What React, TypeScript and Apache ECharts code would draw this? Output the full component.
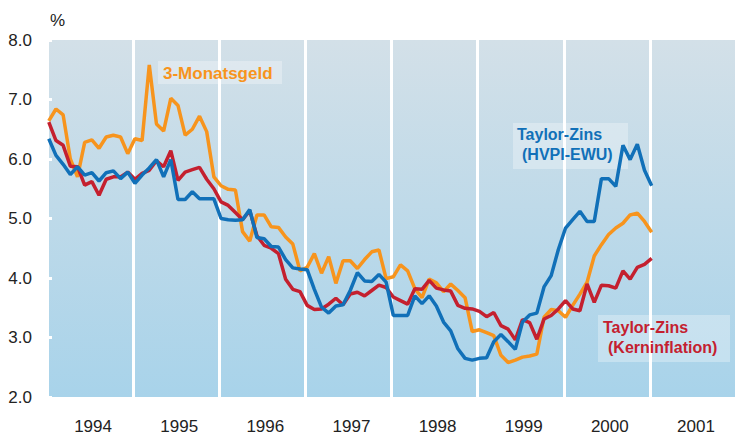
import React, { useEffect, useRef } from "react";
import * as echarts from "echarts";

const years = ["1994", "1995", "1996", "1997", "1998", "1999", "2000", "2001"];
const startYear = 1994;

const geldmarkt = [
  6.64, 6.84, 6.74, 6.0, 5.7, 6.28, 6.32, 6.18, 6.37, 6.4, 6.37, 6.09,
  6.34, 6.31, 7.58, 6.59, 6.47, 7.02, 6.9, 6.4, 6.5, 6.72, 6.46, 5.7,
  5.55, 5.49, 5.48, 4.78, 4.62, 5.06, 5.06, 4.86, 4.85, 4.69, 4.57, 4.12,
  4.18, 4.41, 4.08, 4.36, 3.91, 4.29, 4.29, 4.16, 4.31, 4.44, 4.47, 3.99,
  4.02, 4.22, 4.12, 3.82, 3.67, 3.98, 3.92, 3.77, 3.9, 3.79, 3.67, 3.1,
  3.13, 3.08, 3.03, 2.7, 2.58, 2.62, 2.67, 2.69, 2.72, 3.34, 3.47, 3.45,
  3.34, 3.54, 3.73, 3.93, 4.37, 4.56, 4.73, 4.84, 4.92, 5.06, 5.09, 4.95,
  4.77,
];

const taylorKern = [
  6.62, 6.31, 6.23, 5.88, 5.87, 5.56, 5.62, 5.39, 5.66, 5.7, 5.7, 5.78,
  5.66, 5.76, 5.81, 5.97, 5.87, 6.14, 5.64, 5.78, 5.82, 5.86, 5.66, 5.5,
  5.28, 5.22, 5.1, 4.98, 5.13, 4.71, 4.55, 4.5, 4.41, 3.98, 3.81, 3.77,
  3.54, 3.47, 3.48, 3.56, 3.66, 3.55, 3.73, 3.76, 3.7, 3.79, 3.88, 3.84,
  3.68, 3.62, 3.56, 3.82, 3.81, 3.96, 3.83, 3.8, 3.78, 3.54, 3.49, 3.48,
  3.44, 3.35, 3.42, 3.2, 3.14, 2.96, 3.3, 3.25, 2.97, 3.31, 3.37, 3.48,
  3.62, 3.48, 3.45, 3.9, 3.59, 3.88, 3.87, 3.83, 4.12, 3.98, 4.18, 4.23,
  4.33,
];

const taylorHvpi = [
  6.34, 6.06, 5.91, 5.74, 5.87, 5.73, 5.77, 5.63, 5.77, 5.8, 5.67, 5.78,
  5.59, 5.73, 5.85, 5.99, 5.7, 5.99, 5.32, 5.32, 5.45, 5.33, 5.33, 5.33,
  5.0, 4.98, 4.97, 4.98, 5.15, 4.68, 4.66, 4.53, 4.52, 4.31, 4.17, 4.15,
  4.14, 3.81, 3.51, 3.41, 3.53, 3.55, 3.79, 4.09, 3.95, 3.94, 4.06, 3.93,
  3.37, 3.37, 3.37, 3.7, 3.57, 3.7, 3.53, 3.26, 3.11, 2.81, 2.65, 2.62,
  2.65, 2.66, 2.93, 3.05, 2.93, 2.8, 3.26, 3.38, 3.41, 3.85, 4.04, 4.48,
  4.84, 4.98, 5.12, 4.95, 4.95, 5.67, 5.67, 5.54, 6.23, 5.99, 6.25, 5.81,
  5.55,
];

const yTicks = [2, 3, 4, 5, 6, 7, 8];

const toPairs = (arr: number[]) =>
  arr.map((v, i) => [startYear + (i + 0.25) / 12, v]);

const ORANGE = "#f7941d";
const BLUE = "#1170b8";
const RED = "#c4202f";
const FONT = '"Liberation Sans", Arial, Helvetica, sans-serif';

export default function App() {
  const ref = useRef<HTMLDivElement>(null);
  useEffect(() => {
    document.body.style.margin = "0";
    if (!ref.current) return;
    const chart = echarts.init(ref.current, null, { renderer: "svg" });
    const labelText = (text: string, x: number, y: number, fill: string, size: number) => ({
      type: "text",
      x,
      y,
      z: 11,
      style: {
        text,
        fill,
        font: `bold ${size}px ${FONT}`,
        textVerticalAlign: "middle",
      },
    });
    const box = (x: number, y: number, width: number, height: number) => ({
      type: "rect",
      z: 1,
      shape: { x, y, width, height },
      style: { fill: "rgba(255,255,255,0.3)" },
    });
    chart.setOption({
      animation: false,
      grid: {
        left: 47,
        top: 40,
        width: 701,
        height: 358,
        show: true,
        borderWidth: 0,
        backgroundColor: new echarts.graphic.LinearGradient(0, 0, 0, 1, [
          { offset: 0, color: "#d3e0e8" },
          { offset: 1, color: "#a8d3ea" },
        ]),
      },
      xAxis: [
        {
          type: "value",
          position: "top",
          min: 1994,
          max: 2002,
          interval: 1,
          axisLine: { show: false },
          axisTick: { show: false },
          axisLabel: { show: false },
          splitLine: { show: true, lineStyle: { color: "#ffffff", width: 3 } },
        },
        {
          type: "category",
          position: "bottom",
          data: years,
          boundaryGap: true,
          axisLine: { show: false },
          axisTick: { show: false },
          splitLine: { show: false },
          axisLabel: {
            color: "#222222",
            fontSize: 17,
            fontFamily: FONT,
            margin: 21,
            padding: [0, 0, 0, 6],
          },
        },
      ],
      yAxis: {
        type: "value",
        min: yTicks[0],
        max: yTicks[yTicks.length - 1],
        interval: 1,
        axisLine: { show: false },
        axisTick: {
          show: true,
          inside: true,
          length: 5,
          lineStyle: { color: "#ffffff", width: 3 },
        },
        splitLine: { show: false },
        axisLabel: {
          color: "#222222",
          fontSize: 17,
          fontFamily: FONT,
          margin: 15,
          formatter: (v: number) => v.toFixed(1),
        },
      },
      series: [
        {
          name: "3-Monatsgeld",
          type: "line",
          data: toPairs(geldmarkt),
          xAxisIndex: 0,
          showSymbol: false,
          lineStyle: { color: ORANGE, width: 3.5 },
          z: 3,
        },
        {
          name: "Taylor-Zins (Kerninflation)",
          type: "line",
          data: toPairs(taylorKern),
          xAxisIndex: 0,
          showSymbol: false,
          lineStyle: { color: RED, width: 3.5 },
          z: 4,
        },
        {
          name: "Taylor-Zins (HVPI-EWU)",
          type: "line",
          data: toPairs(taylorHvpi),
          xAxisIndex: 0,
          showSymbol: false,
          lineStyle: { color: BLUE, width: 3.5 },
          z: 5,
        },
      ],
      graphic: [
        {
          type: "text",
          left: 50,
          top: 12,
          style: { text: "%", fill: "#222222", font: `17px ${FONT}` },
        },
        box(158, 61, 124, 23),
        labelText("3-Monatsgeld", 163, 73, ORANGE, 17),
        box(513, 123, 115, 46),
        labelText("Taylor-Zins", 517, 134, BLUE, 16),
        labelText("(HVPI-EWU)", 522, 154, BLUE, 16),
        box(598, 315, 132, 47),
        labelText("Taylor-Zins", 603, 327, RED, 16),
        labelText("(Kerninflation)", 608, 347, RED, 16),
      ],
    });
    return () => chart.dispose();
  }, []);
  return <div ref={ref} style={{ width: 736, height: 435 }} />;
}
